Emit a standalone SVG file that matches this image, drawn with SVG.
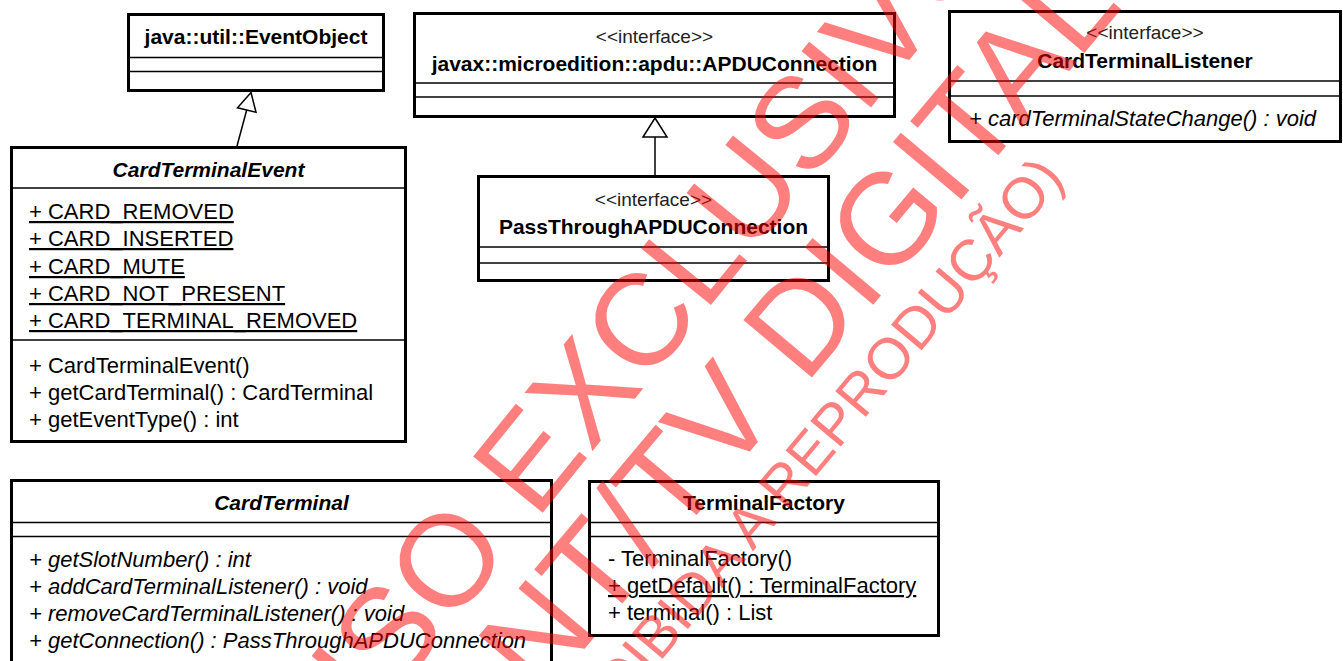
<svg xmlns="http://www.w3.org/2000/svg" width="1343" height="661" viewBox="0 0 1343 661">
<style>
.box{fill:#fff;stroke:#000;stroke-width:3}
.sep{stroke:#000;stroke-width:1.5}
.t{font-family:"Liberation Sans",Arial,sans-serif;font-size:22px;fill:#000}
.title{font-weight:bold;font-size:21px;text-anchor:middle}
.ster{font-size:19px;text-anchor:middle;fill:#222}
.it{font-style:italic}
.u{text-decoration:underline}
.conn{stroke:#000;stroke-width:1.5;fill:none}
.head{stroke:#000;stroke-width:1.5;fill:#fff}
.wm{font-family:"Liberation Sans",Arial,sans-serif;fill:#ff0000;fill-opacity:0.5}
</style>
<rect width="1343" height="661" fill="#fff"/>

<g id="connectors">
  <line class="conn" x1="237" y1="146" x2="246.7" y2="110"/>
  <polygon class="head" points="251,92.5 256,112.3 237.5,107.7"/>
  <line class="conn" x1="655" y1="137" x2="655" y2="176"/>
  <polygon class="head" points="655,118 667,137 643,137"/>
</g>

<g id="EventObject">
  <rect class="box" x="128.5" y="14.5" width="255" height="76"/>
  <line class="sep" x1="128.5" y1="57.5" x2="383.5" y2="57.5"/>
  <line class="sep" x1="128.5" y1="71.5" x2="383.5" y2="71.5"/>
  <text class="t title" x="256" y="44">java::util::EventObject</text>
</g>

<g id="APDUConnection">
  <rect class="box" x="414.5" y="13.5" width="480" height="103"/>
  <line class="sep" x1="414.5" y1="83" x2="894.5" y2="83"/>
  <line class="sep" x1="414.5" y1="97" x2="894.5" y2="97"/>
  <text class="t ster" x="654.5" y="43">&lt;&lt;interface&gt;&gt;</text>
  <text class="t title" x="654.5" y="71">javax::microedition::apdu::APDUConnection</text>
</g>

<g id="PassThroughAPDUConnection">
  <rect class="box" x="478.5" y="176.5" width="350" height="104"/>
  <line class="sep" x1="478.5" y1="247" x2="828.5" y2="247"/>
  <line class="sep" x1="478.5" y1="263" x2="828.5" y2="263"/>
  <text class="t ster" x="653.5" y="206">&lt;&lt;interface&gt;&gt;</text>
  <text class="t title" x="653.5" y="234">PassThroughAPDUConnection</text>
</g>

<g id="CardTerminalListener">
  <rect class="box" x="949.5" y="11.5" width="391" height="130"/>
  <line class="sep" x1="949.5" y1="81" x2="1340.5" y2="81"/>
  <line class="sep" x1="949.5" y1="96" x2="1340.5" y2="96"/>
  <text class="t ster" x="1145" y="39">&lt;&lt;interface&gt;&gt;</text>
  <text class="t title" x="1145" y="68">CardTerminalListener</text>
  <text class="t it" x="969" y="126">+ cardTerminalStateChange() : void</text>
</g>

<g id="CardTerminalEvent">
  <rect class="box" x="11.5" y="147.5" width="394" height="294"/>
  <line class="sep" x1="11.5" y1="188" x2="405.5" y2="188"/>
  <line class="sep" x1="11.5" y1="340" x2="405.5" y2="340"/>
  <text class="t title it" x="208.5" y="177">CardTerminalEvent</text>
  <text class="t u" x="29" y="219">+ CARD_REMOVED</text>
  <text class="t u" x="29" y="246">+ CARD_INSERTED</text>
  <text class="t u" x="29" y="274">+ CARD_MUTE</text>
  <text class="t u" x="29" y="301">+ CARD_NOT_PRESENT</text>
  <text class="t u" x="29" y="328">+ CARD_TERMINAL_REMOVED</text>
  <text class="t" x="29" y="373">+ CardTerminalEvent()</text>
  <text class="t" x="29" y="400">+ getCardTerminal() : CardTerminal</text>
  <text class="t" x="29" y="427">+ getEventType() : int</text>
</g>

<g id="CardTerminal">
  <rect class="box" x="11.5" y="480.5" width="540" height="200"/>
  <line class="sep" x1="11.5" y1="522.5" x2="551.5" y2="522.5"/>
  <line class="sep" x1="11.5" y1="536.5" x2="551.5" y2="536.5"/>
  <text class="t title it" x="281.5" y="510">CardTerminal</text>
  <text class="t it" x="29" y="567">+ getSlotNumber() : int</text>
  <text class="t it" x="29" y="594">+ addCardTerminalListener() : void</text>
  <text class="t it" x="29" y="621">+ removeCardTerminalListener() : void</text>
  <text class="t it" x="29" y="648">+ getConnection() : PassThroughAPDUConnection</text>
</g>

<g id="TerminalFactory">
  <rect class="box" x="589.5" y="481.5" width="349" height="154"/>
  <line class="sep" x1="589.5" y1="522.5" x2="938.5" y2="522.5"/>
  <line class="sep" x1="589.5" y1="536.5" x2="938.5" y2="536.5"/>
  <text class="t title" x="764" y="510">TerminalFactory</text>
  <text class="t" x="608" y="566">- TerminalFactory()</text>
  <text class="t u" x="608" y="593">+ getDefault() : TerminalFactory</text>
  <text class="t" x="608" y="620">+ terminal() : List</text>
</g>

<g id="watermark">
  <text class="wm" font-size="130" transform="translate(336,768) rotate(-51)">USO EXCLUSIVO</text>
  <text class="wm" font-size="130" transform="translate(429,834) rotate(-50)">ABNT/TV DIGITAL</text>
  <text class="wm" font-size="58" transform="translate(556,786) rotate(-50)">(PROIBIDA A REPRODUÇÃO)</text>
</g>
</svg>
